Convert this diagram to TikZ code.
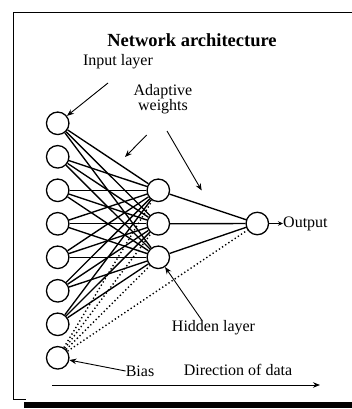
\documentclass[tikz,border=0pt]{standalone}
\usepackage{fontspec}
\setmainfont{Liberation Serif}
\usetikzlibrary{arrows.meta}
\begin{document}
\begin{tikzpicture}[x=1pt,y=-1pt,
  neuron/.style={circle,draw,line width=1.3pt,minimum size=22.5pt,inner sep=0pt},
  link/.style={line width=1.35pt},
  biaslink/.style={line width=1.4pt,dash pattern=on 1.3pt off 2.5pt},
  pointer/.style={-{Stealth[length=7pt,width=5.5pt]},line width=0.9pt},
  lbl/.style={font=\fontsize{16}{17}\selectfont,inner sep=0pt},
  frameline/.style={line width=1pt}
]
\useasboundingbox (0,0) rectangle (352,409);

% frame
\draw[frameline] (352,12.5) -- (13,12.5) -- (13,399) -- (26,399);
\fill (24,401.5) rectangle (352,407.5);

% title
\node[lbl,font=\fontsize{18.5}{20}\selectfont\bfseries] (title) at (192,40) {Network architecture};

% input layer and bias
\foreach \k in {1,...,7}
  \node[neuron] (i\k) at (57.7,{123.3+33.5*(\k-1)}) {};
\node[neuron] (b) at (57.7,357.8) {};

% hidden layer
\node[neuron] (h1) at (158.3,190.3) {};
\node[neuron] (h2) at (158.3,223.8) {};
\node[neuron] (h3) at (158.3,257.3) {};

% output unit
\node[neuron] (o) at (257.3,223.5) {};

% weights input -> hidden
\foreach \k in {1,...,7}
  \foreach \j in {1,2,3}
    \draw[link] (i\k) -- (h\j);

% weights hidden -> output
\foreach \j in {1,2,3}
  \draw[link] (h\j) -- (o);

% bias weights
\foreach \j in {1,2,3}
  \draw[biaslink] (b) -- (h\j);
\draw[biaslink] (b) -- (o);

% labels
\node[lbl] (outtxt) [anchor=west] at (283,223.5) {Output};
\draw[-{Stealth[length=5pt,width=4.5pt]},line width=1.1pt] (o) -- (outtxt);

\node[lbl] (inl) at (118,62) {Input layer};
\coordinate (inlS) at (108,83);
\draw[pointer] (inlS) -- (i1);

\node[lbl,align=center] (adw) at (163,99) {Adaptive\\[-2pt]weights};
\coordinate (adwA) at (146.7,135);
\coordinate (adwAt) at (125,157);
\coordinate (adwB) at (167,131);
\coordinate (adwBt) at (201.7,190.5);
\draw[pointer] (adwA) -- (adwAt);
\draw[pointer] (adwB) -- (adwBt);

\node[lbl] (hid) at (213.5,328) {Hidden layer};
\coordinate (hidS) at (201.7,320);
\draw[pointer] (hidS) -- (h3);

\node[lbl] (bias) at (140,371) {Bias};
\draw[pointer] (bias.west) -- (b);

\node[lbl] (dir) at (238,370) {Direction of data};
\coordinate (dirS) at (52,385);
\coordinate (dirE) at (320,385);
\draw[pointer] (dirS) -- (dirE);
\end{tikzpicture}
\end{document}
